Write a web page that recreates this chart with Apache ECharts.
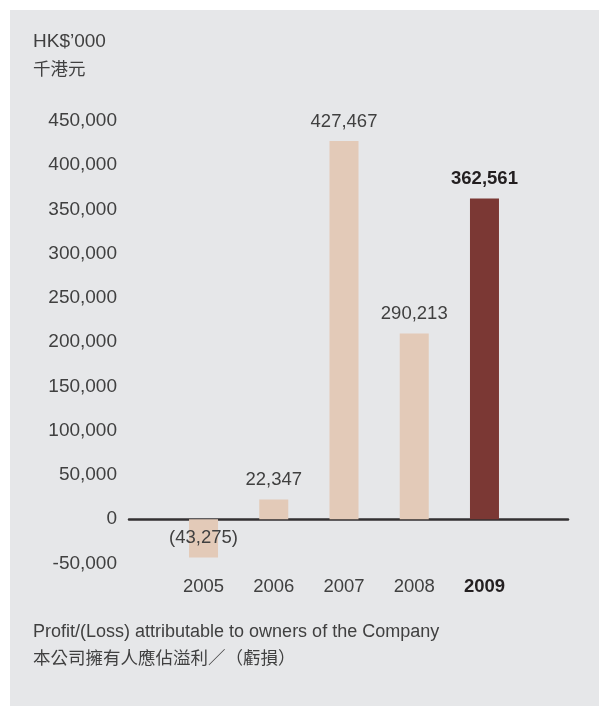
<!DOCTYPE html>
<html><head><meta charset="utf-8">
<script src="https://cdn.jsdelivr.net/npm/echarts@6/dist/echarts.min.js"></script>
<style>html,body{margin:0;padding:0;background:#fff;}#c{position:absolute;left:10px;top:10px;width:589px;height:696px;background:#e6e7e9;}</style>
</head><body><div id="c"></div>
<script>
const categories = ['2005', '2006', '2007', '2008', '2009'];
const barValues = [-43275, 22347, 427467, 210000, 362561];
const valueLabels = ['(43,275)', '22,347', '427,467', '290,213', '362,561'];
const highlightIndex = 4;
const yMin = -50000, yMax = 450000, yStep = 50000;

const FONT = '"Liberation Sans", Arial, "Noto Sans CJK TC", sans-serif';
const chart = echarts.init(document.getElementById('c'), null, {renderer: 'canvas'});
const fmt = v => v.toString().replace(/\B(?=(\d{3})+(?!\d))/g, ',');

const data = barValues.map((v, i) => {
  const hi = i === highlightIndex;
  return {
    value: v,
    itemStyle: {color: hi ? '#7b3834' : '#e3cab8'},
    label: {
      show: true,
      position: v < 0 ? 'inside' : 'top',
      distance: 10,
      padding: v < 0 ? [4, 0, 0, 0] : 0,
      formatter: () => valueLabels[i],
      color: hi ? '#231f20' : '#404040',
      fontWeight: hi ? 'bold' : 'normal',
      fontSize: 18.5,
      fontFamily: FONT
    }
  };
});

chart.setOption({
  animation: false,
  grid: [
    {left: 158.4, right: 79.4, top: 111, bottom: 142.5},
    {left: 119, right: 31, top: 111, bottom: 142.5}
  ],
  xAxis: [
    {type: 'category', gridIndex: 0, data: categories,
     axisLine: {show: false}, axisTick: {show: false},
     axisLabel: {interval: 0, margin: 14, fontSize: 18.5, fontFamily: FONT,
       formatter: (v) => v === categories[highlightIndex] ? '{b|' + v + '}' : '{n|' + v + '}',
       rich: {
         n: {color: '#404040', fontSize: 18.5, fontFamily: FONT},
         b: {color: '#231f20', fontSize: 18.5, fontWeight: 'bold', fontFamily: FONT}
       }}},
    {type: 'value', gridIndex: 1, min: 0, max: 1,
     axisLine: {show: true, onZero: true, lineStyle: {color: '#333132', width: 2.5}},
     axisTick: {show: false}, axisLabel: {show: false}, splitLine: {show: false}}
  ],
  yAxis: [
    {type: 'value', gridIndex: 0, min: yMin, max: yMax, interval: yStep, show: false, splitLine: {show: false}},
    {type: 'value', gridIndex: 1, min: yMin, max: yMax, interval: yStep,
     axisLine: {show: false}, axisTick: {show: false}, splitLine: {show: false},
     axisLabel: {margin: 12, fontSize: 19, color: '#404040', fontFamily: FONT, formatter: fmt, padding: [5, 0, 0, 0]}}
  ],
  series: [{
    type: 'bar', xAxisIndex: 0, yAxisIndex: 0, barWidth: 29, data: data
  }],
  graphic: [
    {type: 'text', left: 23, top: 22, style: {text: "HK$\u2019000", fontSize: 19, fill: '#404040', fontFamily: FONT}},
    {type: 'text', left: 23, top: 51, style: {text: '千港元', fontSize: 17.5, fill: '#404040', fontFamily: FONT}},
    {type: 'text', left: 23, top: 613, style: {text: 'Profit/(Loss) attributable to owners of the Company', fontSize: 18, fill: '#404040', fontFamily: FONT}},
    {type: 'text', left: 23, top: 640, style: {text: '本公司擁有人應佔溢利／（虧損）', fontSize: 17.5, fill: '#404040', fontFamily: FONT}}
  ]
});
</script></body></html>
